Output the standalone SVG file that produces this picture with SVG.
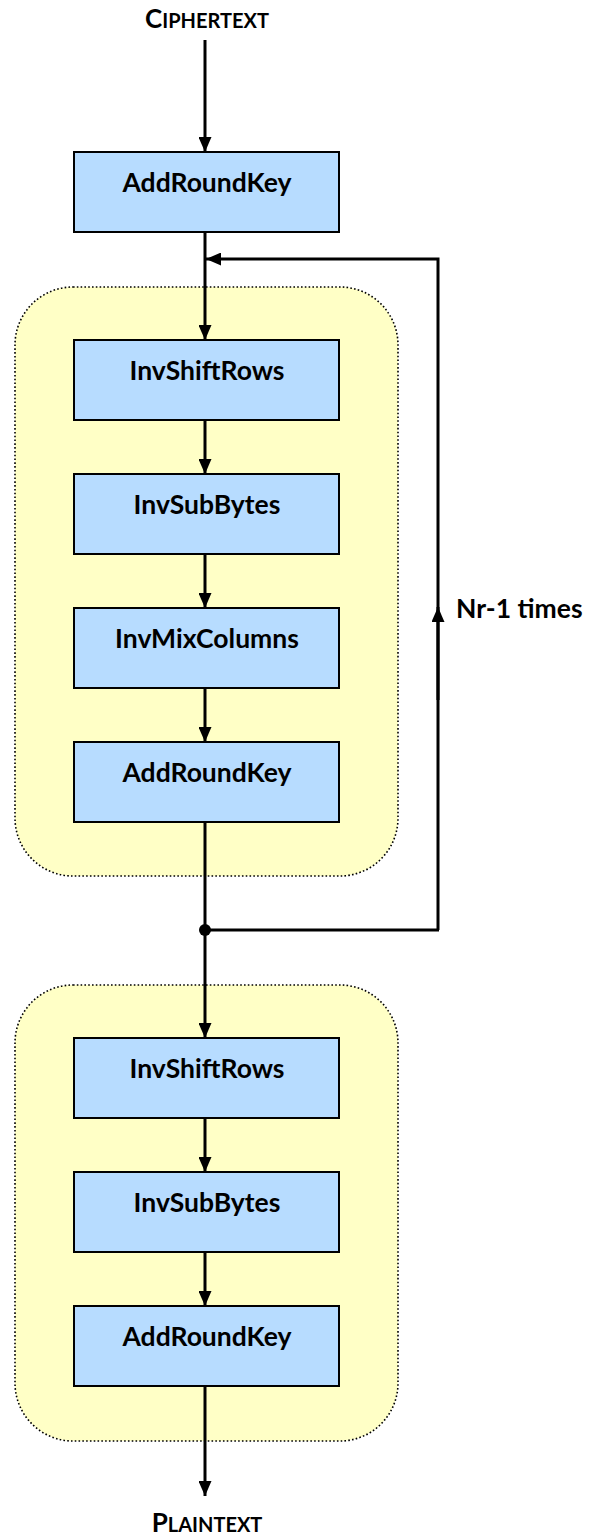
<svg xmlns="http://www.w3.org/2000/svg" width="590" height="1537" viewBox="0 0 590 1537">
  <style>
    .round { fill: #ffffc6; stroke: #000; stroke-width: 1.6; stroke-dasharray: 1.6 2.2; }
    .box { fill: #b7dcff; stroke: #000; stroke-width: 2; }
    .lbl { font-family: Lato, "Open Sans", sans-serif; font-weight: bold; font-size: 26.5px; fill: #000; text-anchor: middle; }
    .io { font-family: Lato, "Open Sans", sans-serif; font-weight: bold; fill: #000; text-anchor: middle; }
    .wire { fill: none; stroke: #000; stroke-width: 3; }
  </style>
  <defs>
    <marker id="arrow" viewBox="0 0 15 13" refX="15" refY="6.5" markerWidth="15" markerHeight="13" markerUnits="userSpaceOnUse" orient="auto">
      <path d="M0,0 L15,6.5 L0,13 Z" fill="#000"/>
    </marker>
  </defs>

  <!-- round containers -->
  <g id="round-main">
    <rect class="round" x="15" y="287" width="383" height="589" rx="58" ry="58"/>
  </g>
  <g id="round-final">
    <rect class="round" x="15" y="985" width="383" height="456" rx="58" ry="58"/>
  </g>

  <!-- connectors -->
  <g id="connectors">
    <line class="wire" x1="205" y1="40" x2="205" y2="152" marker-end="url(#arrow)"/>
    <line class="wire" x1="205" y1="232" x2="205" y2="340" marker-end="url(#arrow)"/>
    <polyline class="wire" points="438,930 438,259 206,259" marker-end="url(#arrow)"/>
    <line class="wire" x1="438" y1="700" x2="438" y2="607" marker-end="url(#arrow)"/>
    <line class="wire" x1="205" y1="420" x2="205" y2="474" marker-end="url(#arrow)"/>
    <line class="wire" x1="205" y1="554" x2="205" y2="608" marker-end="url(#arrow)"/>
    <line class="wire" x1="205" y1="688" x2="205" y2="742" marker-end="url(#arrow)"/>
    <line class="wire" x1="205" y1="822" x2="205" y2="1038" marker-end="url(#arrow)"/>
    <line class="wire" x1="205" y1="930" x2="439" y2="930"/>
    <circle cx="205" cy="930" r="6" fill="#000"/>
    <line class="wire" x1="205" y1="1118" x2="205" y2="1172" marker-end="url(#arrow)"/>
    <line class="wire" x1="205" y1="1252" x2="205" y2="1306" marker-end="url(#arrow)"/>
    <line class="wire" x1="205" y1="1386" x2="205" y2="1496" marker-end="url(#arrow)"/>
  </g>

  <!-- input / output labels -->
  <g id="ciphertext">
    <text class="io" x="207" y="28"><tspan font-size="26">C</tspan><tspan font-size="20">IPHERTEXT</tspan></text>
  </g>
  <g id="plaintext">
    <text class="io" x="207" y="1532"><tspan font-size="26">P</tspan><tspan font-size="20">LAINTEXT</tspan></text>
  </g>
  <g id="loop-label">
    <text class="lbl" x="456" y="618" style="text-anchor:start">Nr-1 times</text>
  </g>

  <!-- stages -->
  <g id="add-round-key-0">
    <rect class="box" x="74" y="152" width="265" height="80"/>
    <text class="lbl" x="207" y="192">AddRoundKey</text>
  </g>
  <g id="inv-shift-rows-1">
    <rect class="box" x="74" y="340" width="265" height="80"/>
    <text class="lbl" x="207" y="380">InvShiftRows</text>
  </g>
  <g id="inv-sub-bytes-1">
    <rect class="box" x="74" y="474" width="265" height="80"/>
    <text class="lbl" x="207" y="514">InvSubBytes</text>
  </g>
  <g id="inv-mix-columns">
    <rect class="box" x="74" y="608" width="265" height="80"/>
    <text class="lbl" x="207" y="648">InvMixColumns</text>
  </g>
  <g id="add-round-key-1">
    <rect class="box" x="74" y="742" width="265" height="80"/>
    <text class="lbl" x="207" y="782">AddRoundKey</text>
  </g>
  <g id="inv-shift-rows-2">
    <rect class="box" x="74" y="1038" width="265" height="80"/>
    <text class="lbl" x="207" y="1078">InvShiftRows</text>
  </g>
  <g id="inv-sub-bytes-2">
    <rect class="box" x="74" y="1172" width="265" height="80"/>
    <text class="lbl" x="207" y="1212">InvSubBytes</text>
  </g>
  <g id="add-round-key-2">
    <rect class="box" x="74" y="1306" width="265" height="80"/>
    <text class="lbl" x="207" y="1346">AddRoundKey</text>
  </g>
</svg>
